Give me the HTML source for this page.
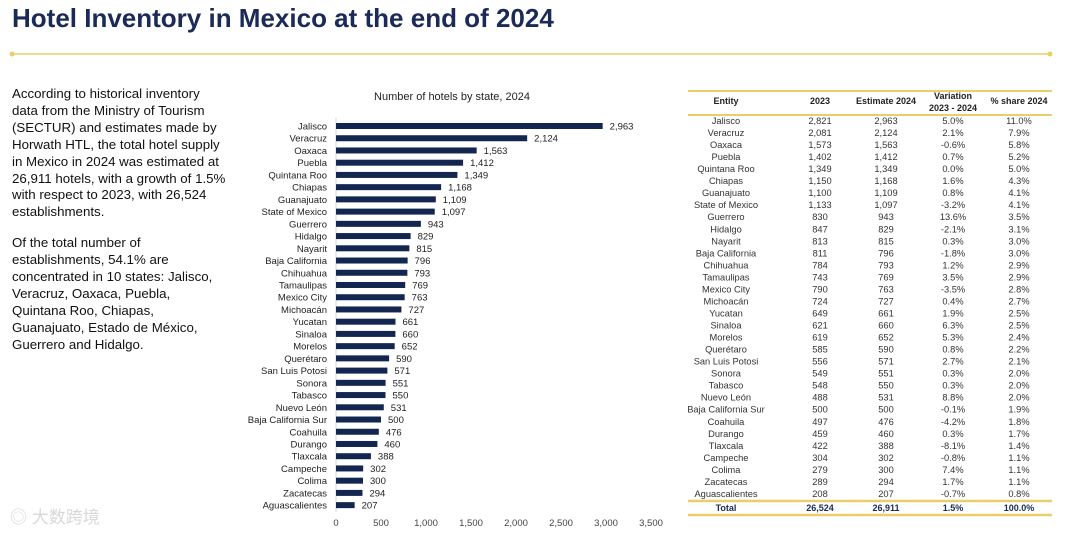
<!DOCTYPE html>
<html><head><meta charset="utf-8">
<style>
body{margin:0;background:#fff;width:1080px;height:535px;overflow:hidden;position:relative;font-family:"Liberation Sans",Arial,sans-serif}
#title{position:absolute;left:12px;top:3px;font-size:26px;font-weight:bold;color:#1b2a57;margin:0}
#intro{position:absolute;left:12px;top:86px;font-size:13.3px;line-height:16.9px;color:#111;white-space:nowrap}
#intro p{margin:0 0 14px 0}
#wm{position:absolute;left:10px;top:503px;font-size:17px;color:#d8d8d8;font-family:"Liberation Sans","Noto Sans CJK SC",sans-serif}
svg{position:absolute;left:0;top:0}
</style></head><body>
<h1 id="title">Hotel Inventory in Mexico at the end of 2024</h1>
<div id="intro">
<p>According to historical inventory<br>data from the Ministry of Tourism<br>(SECTUR) and estimates made by<br>Horwath HTL, the total hotel supply<br>in Mexico in 2024 was estimated at<br>26,911 hotels, with a growth of 1.5%<br>with respect to 2023, with 26,524<br>establishments.</p>
<p>Of the total number of<br>establishments, 54.1% are<br>concentrated in 10 states: Jalisco,<br>Veracruz, Oaxaca, Puebla,<br>Quintana Roo, Chiapas,<br>Guanajuato, Estado de México,<br>Guerrero and Hidalgo.</p>
</div>
<div id="wm">◎ 大数跨境</div>
<svg id="chart" width="1080" height="535"></svg>
<script>
const states=["Jalisco","Veracruz","Oaxaca","Puebla","Quintana Roo","Chiapas","Guanajuato","State of Mexico","Guerrero","Hidalgo","Nayarit","Baja California","Chihuahua","Tamaulipas","Mexico City","Michoacán","Yucatan","Sinaloa","Morelos","Querétaro","San Luis Potosi","Sonora","Tabasco","Nuevo León","Baja California Sur","Coahuila","Durango","Tlaxcala","Campeche","Colima","Zacatecas","Aguascalientes"];
const hotels2024=[2963,2124,1563,1412,1349,1168,1109,1097,943,829,815,796,793,769,763,727,661,660,652,590,571,551,550,531,500,476,460,388,302,300,294,207];
const hotels2023=[2821,2081,1573,1402,1349,1150,1100,1133,830,847,813,811,784,743,790,724,649,621,619,585,556,549,548,488,500,497,459,422,304,279,289,208];
const variation=["5.0%","2.1%","-0.6%","0.7%","0.0%","1.6%","0.8%","-3.2%","13.6%","-2.1%","0.3%","-1.8%","1.2%","3.5%","-3.5%","0.4%","1.9%","6.3%","5.3%","0.8%","2.7%","0.3%","0.3%","8.8%","-0.1%","-4.2%","0.3%","-8.1%","-0.8%","7.4%","1.7%","-0.7%"];
const share=["11.0%","7.9%","5.8%","5.2%","5.0%","4.3%","4.1%","4.1%","3.5%","3.1%","3.0%","3.0%","2.9%","2.9%","2.8%","2.7%","2.5%","2.5%","2.4%","2.2%","2.1%","2.0%","2.0%","2.0%","1.9%","1.8%","1.7%","1.4%","1.1%","1.1%","1.1%","0.8%"];
const xTicks=[0,500,1000,1500,2000,2500,3000,3500];
const svg=document.getElementById('chart');
const NS="http://www.w3.org/2000/svg";
function mk(tag,attrs,txt){const e=document.createElementNS(NS,tag);for(const k in attrs)e.setAttribute(k,attrs[k]);if(txt!==undefined)e.textContent=txt;svg.appendChild(e);return e;}
const fmt=v=>v.toLocaleString('en-US');
const x=v=>336+v*(315/3500);
const y=i=>126+i*12.23;
let e=mk('line',{x1:12,y1:54,x2:1050,y2:54,stroke:'#e8cf6a','stroke-width':1.5});

e=mk('circle',{cx:12,cy:54,r:2.5,fill:'#e8cf6a'});
e=mk('circle',{cx:1050,cy:54,r:2.5,fill:'#e8cf6a'});
e=mk('text',{x:452,y:100,'font-size':11,'text-anchor':'middle',fill:'#222'},'Number of hotels by state, 2024');

e=mk('line',{x1:x(0),y1:118,x2:x(0),y2:512,stroke:'#cfd8e6','stroke-width':1});

xTicks.forEach(t=>{const el=mk('text',{x:x(t),y:526,'font-size':9.5,'text-anchor':'middle',fill:'#444'},fmt(t));
});
states.forEach((s,i)=>{
 const l=mk('text',{x:327,y:y(i)+3.5,'font-size':9.5,'text-anchor':'end',fill:'#222'},s);
 
 const b=mk('rect',{x:x(0),y:y(i)-3,width:x(hotels2024[i])-x(0),height:6,fill:'#13264f'});
 
 const v=mk('text',{x:x(hotels2024[i])+7,y:y(i)+3.5,'font-size':9.5,fill:'#222'},fmt(hotels2024[i]));
 
});
const cols=[726,820,886,953,1019];
const ty=i=>121+i*12.03;
[['Entity',cols[0],104],['2023',cols[1],104],['Estimate 2024',cols[2],104],['% share 2024',cols[4],104]].forEach(h=>{
 const t=mk('text',{x:h[1],y:h[2],'font-size':9,'font-weight':'bold','text-anchor':'middle',fill:'#222'},h[0]);
 });
e=mk('text',{x:cols[3],y:99,'font-size':9,'font-weight':'bold','text-anchor':'middle',fill:'#222'},'Variation');
e=mk('text',{x:cols[3],y:111,'font-size':9,'font-weight':'bold','text-anchor':'middle',fill:'#222'},'2023 - 2024');
[[91,2],[115,2],[501,2.5],[515,2.5]].forEach(r=>{const l=mk('line',{x1:688,y1:r[0],x2:1052,y2:r[0],stroke:'#e8cf6a','stroke-width':r[1]});
 });
states.forEach((s,i)=>{
 const vals=[s,fmt(hotels2023[i]),fmt(hotels2024[i]),variation[i],share[i]];
 vals.forEach((v,j)=>{const t=mk('text',{x:cols[j],y:ty(i)+3,'font-size':9.3,'text-anchor':'middle',fill:'#333'},v);
 });
});
['Total','26,524','26,911','1.5%','100.0%'].forEach((v,j)=>{const t=mk('text',{x:cols[j],y:511,'font-size':9,'font-weight':'bold','text-anchor':'middle',fill:'#1b2a57'},v);
 });
</script>
</body></html>
